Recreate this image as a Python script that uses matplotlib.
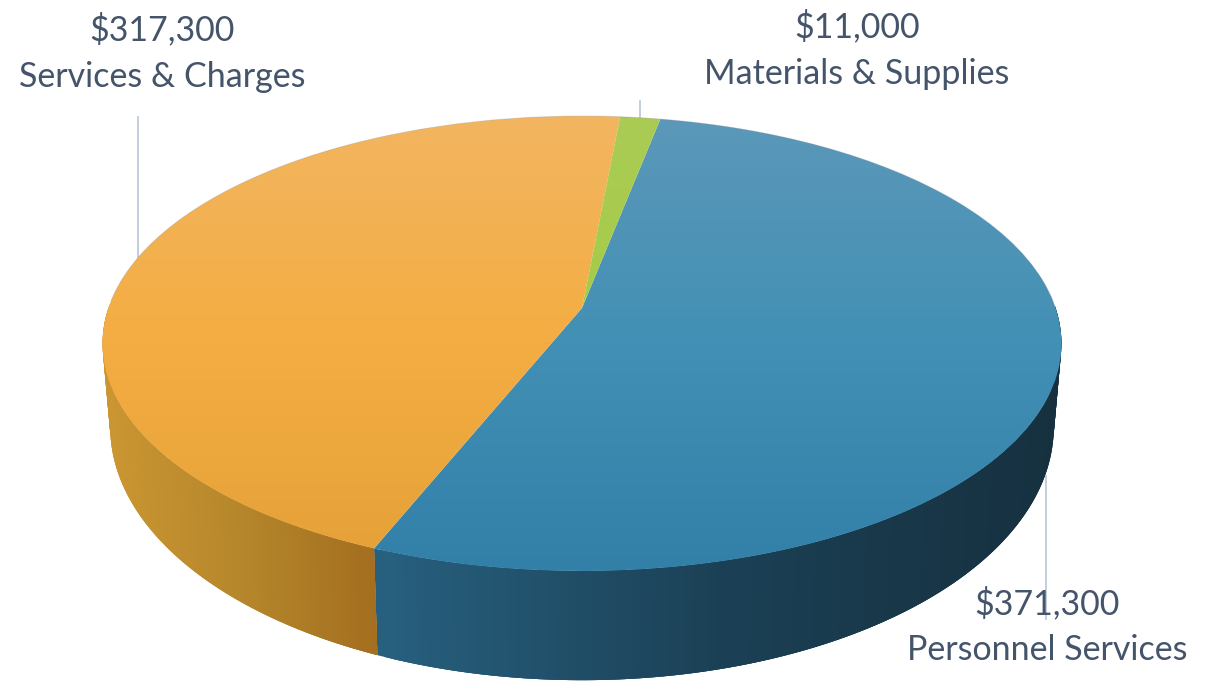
import numpy as np
import matplotlib
matplotlib.use("Agg")
import matplotlib.pyplot as plt
from matplotlib.colors import LinearSegmentedColormap
from matplotlib.transforms import Transform

categories = ["Personnel Services", "Services & Charges", "Materials & Supplies"]
amounts = [371300, 317300, 11000]

# top face colours, top / middle / bottom of the picture
face_colors = [
    ["#5C98B9", "#4290B5", "#3280A8"],
    ["#F2B560", "#F4AD42", "#E4A138"],
    ["#AACC55", "#A5CB45", "#9CC03C"],
]
# side wall colours, left to right
wall_colors = [
    ["#27607F", "#1B4055", "#16303F"],
    ["#CB9632", "#B5862B", "#A36E1F"],
    ["#7F9A30", "#7F9A30", "#7F9A30"],
]
text_color = "#44546A"
line_color = "#B9C5D8"

W, H = 1217, 685
CX = 582
TILT = 0.156
TOP_DISC = (-173.9, 308.0, 473.6)
BOTTOM_DISC = (-186.5, 387.6, 466.0)


def project(x, y, disc):
    a, b, d = disc
    den = 1 + TILT * y
    return CX + d * x / den, (a * y + b) / den


class DiscTransform(Transform):
    input_dims = output_dims = 2

    def __init__(self, disc):
        super().__init__()
        self.disc = disc

    def transform_non_affine(self, values):
        px, py = project(values[:, 0], values[:, 1], self.disc)
        return np.column_stack([px, py])


fig = plt.figure(figsize=(W / 100, H / 100), dpi=100)
ax = fig.add_axes([0, 0, 1, 1])
plt.rcParams["font.family"] = ["Lato", "DejaVu Sans"]

wedges, _ = ax.pie(amounts, startangle=79, counterclock=False, radius=1, center=(0, 0))

ramp = np.linspace(0, 1, 256).reshape(-1, 1)
for wedge, faces, walls in zip(wedges, face_colors, wall_colors):
    # side wall, overlapping strips so no seams show
    ts = np.radians(np.linspace(wedge.theta1, wedge.theta2, 240))
    x1, y1 = project(np.cos(ts), np.sin(ts), TOP_DISC)
    x2, y2 = project(np.cos(ts), np.sin(ts), BOTTOM_DISC)
    front = np.sin(ts) < 0.02
    if front.sum() > 3:
        wall_cmap = LinearSegmentedColormap.from_list("wall", walls)
        lo, hi = x2[front].min(), x2[front].max()
        idx = np.where(front)[0]
        for i in idx[:-1]:
            j = min(i + 3, idx[-1])
            ax.fill([x1[i], x1[j], x2[j], x2[i]], [y1[i], y1[j], y2[j], y2[i]],
                    color=wall_cmap((x2[i] - lo) / (hi - lo)), lw=0, zorder=1)

    # faint rim along the back edge
    back = ~front
    ax.plot(x1[back], y1[back], color="#8A8A8A", lw=0.6, alpha=0.3, zorder=2.5)

    # top face, vertical gradient clipped to the wedge
    wedge.set_transform(DiscTransform(TOP_DISC) + ax.transData)
    wedge.set_facecolor("none")
    wedge.set_edgecolor("none")
    cmap = LinearSegmentedColormap.from_list("face", faces)
    im = ax.imshow(ramp, cmap=cmap, extent=(0, W, 571, 116), aspect="auto",
                   interpolation="bilinear", zorder=2)
    im.set_clip_path(wedge)

ax.set_xlim(0, W)
ax.set_ylim(H, 0)
ax.set_aspect("auto")
ax.axis("off")

# leader lines
ax.plot([1046, 1046], [476, 619], color=line_color, lw=1.2, zorder=4)
ax.plot([138, 138], [117, 258], color=line_color, lw=1.2, zorder=1.5)
ax.plot([640, 640], [101, 118], color=line_color, lw=1.2, zorder=1.5)

# labels
label_pos = [(1047, 603, 650), (162, 29, 77), (857, 26, 74)]
for name, amount, (lx, ly1, ly2) in zip(categories, amounts, label_pos):
    ax.text(lx, ly1, f"${amount:,}", color=text_color, fontsize=24.5, ha="center", va="center", zorder=5)
    ax.text(lx, ly2, name, color=text_color, fontsize=24.5, ha="center", va="center", zorder=5)

fig.savefig("out.png", dpi=100)
